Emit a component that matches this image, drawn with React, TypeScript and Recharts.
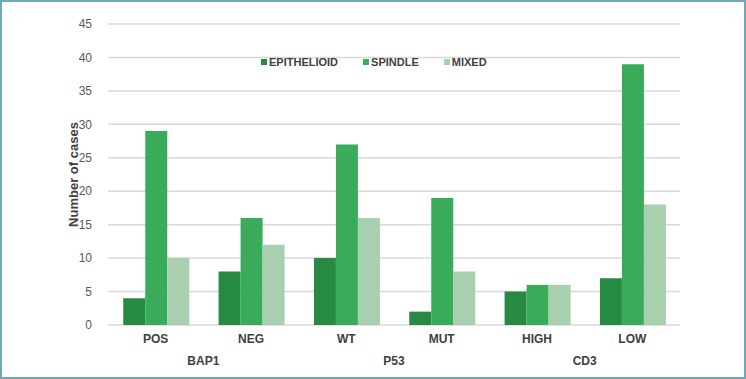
import React from "react";
import { BarChart, Bar, XAxis, YAxis, CartesianGrid, Legend } from "recharts";

const categories = ["POS", "NEG", "WT", "MUT", "HIGH", "LOW"];
const groups = ["BAP1", "", "P53", "", "CD3", ""];
const epithelioid = [4, 8, 10, 2, 5, 7];
const spindle = [29, 16, 27, 19, 6, 39];
const mixed = [10, 12, 16, 8, 6, 18];
const yTicks = [0, 5, 10, 15, 20, 25, 30, 35, 40, 45];

const COLORS = { epithelioid: "#268a42", spindle: "#3aab5a", mixed: "#a8d0ae" };
const FONT = "'Liberation Sans', Arial, sans-serif";

const W = 746;
const H = 379;
const MARGIN = { top: 12, right: 66, left: 68, bottom: 0 };
const Y_AXIS_W = 40;
const BAND = (W - MARGIN.left - MARGIN.right - Y_AXIS_W) / categories.length;

const data = categories.map((c, i) => ({
  cat: c,
  group: groups[i],
  epithelioid: epithelioid[i],
  spindle: spindle[i],
  mixed: mixed[i],
}));

const legendItems = [
  { key: "epithelioid", label: "EPITHELIOID" },
  { key: "spindle", label: "SPINDLE" },
  { key: "mixed", label: "MIXED" },
];

function LegendContent() {
  return (
    <div style={{ display: "flex", gap: 25, fontFamily: FONT, fontSize: 11, fontWeight: "bold", color: "#404040" }}>
      {legendItems.map((it) => (
        <div key={it.key} style={{ display: "flex", alignItems: "center" }}>
          <span
            style={{
              display: "inline-block",
              width: 6,
              height: 6,
              marginRight: 2,
              background: COLORS[it.key as keyof typeof COLORS],
            }}
          />
          {it.label}
        </div>
      ))}
    </div>
  );
}

function GroupTick(props: any) {
  const { x, y, payload } = props;
  if (!payload.value) return null;
  return (
    <text
      x={x + BAND / 2}
      y={y + 4}
      textAnchor="middle"
      fontFamily={FONT}
      fontSize={12}
      fontWeight="bold"
      fill="#404040"
    >
      {payload.value}
    </text>
  );
}

export default function App() {
  return (
    <div
      style={{
        position: "absolute",
        left: 0,
        top: 0,
        width: W,
        height: H,
        boxSizing: "border-box",
        border: "2px solid #6fa9b5",
        background: "#fff",
      }}
    >
      <div style={{ position: "absolute", left: -2, top: -2 }}>
        <BarChart width={W} height={H} data={data} margin={MARGIN} barCategoryGap="16%" barGap={0}>
          <CartesianGrid vertical={false} stroke="#d9d9d9" strokeWidth={1.5} />
          <XAxis
            dataKey="cat"
            xAxisId="cat"
            axisLine={false}
            tickLine={false}
            height={28}
            tick={{ fontFamily: FONT, fontSize: 12, fontWeight: "bold", fill: "#404040" }}
            tickMargin={3}
          />
          <XAxis
            dataKey="group"
            xAxisId="group"
            axisLine={false}
            tickLine={false}
            height={26}
            interval={0}
            tick={<GroupTick />}
          />
          <YAxis
            width={Y_AXIS_W}
            domain={[0, 45]}
            ticks={yTicks}
            axisLine={false}
            tickLine={false}
            tickMargin={10}
            tick={{ fontFamily: FONT, fontSize: 12, fill: "#595959" }}
            label={{
              value: "Number of cases",
              angle: -90,
              position: "left",
              offset: -5,
              style: { fontFamily: FONT, fontSize: 13, fontWeight: "bold", fill: "#404040", textAnchor: "middle" },
            }}
          />
          <Legend
            verticalAlign="top"
            content={<LegendContent />}
            wrapperStyle={{ position: "absolute", top: 56, left: 261, width: 300 }}
          />
          <Bar xAxisId="cat" dataKey="epithelioid" fill={COLORS.epithelioid} isAnimationActive={false} />
          <Bar xAxisId="cat" dataKey="spindle" fill={COLORS.spindle} isAnimationActive={false} />
          <Bar xAxisId="cat" dataKey="mixed" fill={COLORS.mixed} isAnimationActive={false} />
        </BarChart>
      </div>
    </div>
  );
}
